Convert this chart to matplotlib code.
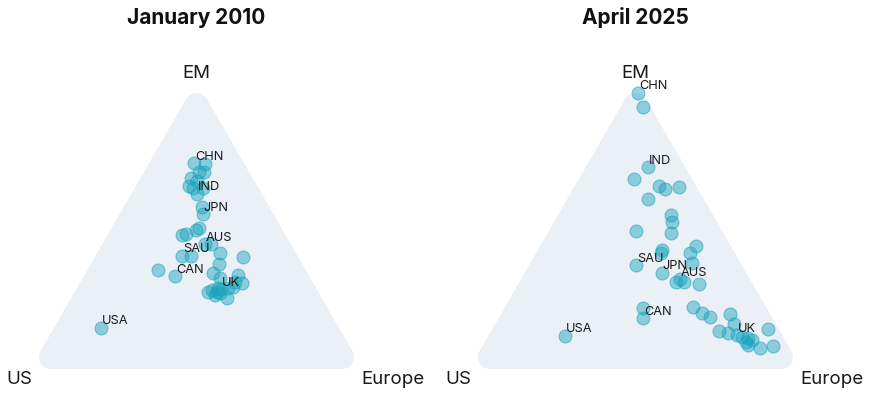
import numpy as np
import matplotlib
matplotlib.use("Agg")
import matplotlib.pyplot as plt
from matplotlib.patches import Polygon

plt.rcParams['font.family'] = ['Inter', 'DejaVu Sans']

# ---------------- data (shares in %) ----------------
titles = ["January 2010", "April 2025"]
corner_labels = ["US", "Europe", "EM"]

labels_2010 = ["USA", "CHN", "", "", "", "", "", "", "", "IND", "", "", "JPN", "", "", "", "",
               "AUS", "", "SAU", "", "", "", "", "", "CAN", "", "", "", "", "", "UK", "", "", "",
               "", "", "", "", "", ""]
us_2010 = [71.6, 15.0, 11.9, 13.5, 14.9, 18.6, 20.4, 17.3, 19.6, 19.4, 16.8, 20.3, 21.2, 25.9, 24.8,
           31.2, 29.7, 25.8, 24.0, 34.6, 32.1, 22.9, 16.4, 25.0, 44.5, 40.3, 28.2, 27.2, 21.1, 23.3,
           21.5, 28.7, 33.0, 31.7, 30.5, 29.8, 31.6, 28.7, 26.4, 24.7, 29.5]
eu_2010 = [14.0, 13.6, 17.0, 18.2, 16.6, 15.2, 15.9, 17.4, 17.7, 19.7, 20.5, 23.4, 25.0, 25.9, 26.3,
           22.4, 23.6, 30.9, 32.7, 26.1, 28.6, 36.9, 44.6, 38.5, 21.1, 27.4, 38.4, 41.3, 46.3, 46.4,
           48.7, 43.5, 40.2, 40.9, 42.7, 43.9, 42.7, 46.8, 45.6, 46.7, 42.4]
em_2010 = [14.4, 71.4, 71.1, 68.3, 68.5, 66.2, 63.7, 65.3, 62.7, 60.9, 62.7, 56.3, 53.8, 48.2, 48.9,
           46.4, 46.7, 43.3, 43.3, 39.3, 39.3, 40.2, 39.0, 36.5, 34.4, 32.3, 33.4, 31.5, 32.6, 30.3,
           29.8, 27.8, 26.8, 27.4, 26.8, 26.3, 25.7, 24.5, 28.0, 28.6, 28.1]

labels_2025 = ["CHN", "", "IND", "", "", "", "", "", "", "", "", "", "", "", "", "", "SAU", "JPN",
               "", "", "AUS", "", "", "", "CAN", "USA", "", "", "", "", "", "", "", "UK", "", "",
               "", "", "", "", "", ""]
us_2025 = [1.2, 2.2, 11.1, 17.5, 11.1, 9.9, 5.2, 16.7, 12.6, 13.6, 25.8, 15.9, 21.5, 22.3, 10.4,
           13.4, 31.8, 25.4, 14.6, 22.7, 21.1, 20.2, 16.1, 37.1, 38.9, 65.4, 21.8, 20.4, 18.5, 12.0,
           12.6, 18.2, 16.1, 13.6, 12.5, 10.8, 12.0, 11.9, 9.0, 3.2, 4.6, 10.1]
eu_2025 = [2.9, 6.9, 18.9, 16.6, 25.2, 27.6, 31.6, 24.4, 33.9, 35.4, 26.2, 37.0, 37.2, 37.5, 46.8,
           46.2, 32.1, 41.2, 48.5, 47.0, 47.8, 49.5, 54.5, 41.8, 43.5, 23.0, 56.6, 60.2, 63.3, 68.9,
           71.9, 68.5, 71.5, 74.6, 76.3, 78.6, 78.5, 79.8, 83.8, 83.0, 87.4, 79.9]
em_2025 = [95.9, 90.9, 70.0, 65.9, 63.7, 62.5, 63.2, 58.9, 53.5, 51.0, 48.0, 47.1, 41.3, 40.2, 42.8,
           40.4, 36.1, 33.4, 36.9, 30.3, 31.1, 30.3, 29.4, 21.1, 17.6, 11.6, 21.6, 19.4, 18.2, 19.1,
           15.5, 13.3, 12.4, 11.8, 11.2, 10.6, 9.5, 8.3, 7.2, 13.8, 8.0, 10.0]

panels = [
    (titles[0], labels_2010, us_2010, eu_2010, em_2010),
    (titles[1], labels_2025, us_2025, eu_2025, em_2025),
]

# ---------------- layout ----------------
W, H = 870, 394
S = 332.6              # triangle side in px
BASE_Y = 369.0         # triangle base y (px from top)
LEFT_X = [30.2, 469.2]  # left vertex x (px) per panel
RADIUS = 12.0          # corner radius px
SQ3 = np.sqrt(3) / 2

fig = plt.figure(figsize=(W / 100, H / 100), dpi=100)
fig.patch.set_facecolor("white")

pt_col = (0.09, 0.64, 0.74)
tri_col = "#ebeff6"
txt_col = "#1a1a1a"

for i, (title, labs, us, eu, em) in enumerate(panels):
    x0 = 0 if i == 0 else W / 2
    ax = fig.add_axes([x0 / W, 0, (W / 2) / W, 1])
    ax.set_xlim((x0 - LEFT_X[i]) / S, (x0 + W / 2 - LEFT_X[i]) / S)
    ax.set_ylim(-(H - BASE_Y) / S, BASE_Y / S)
    ax.axis("off")
    ax.patch.set_alpha(0)

    # rounded triangle: inset triangle stroked with round joins
    verts = np.array([[0, 0], [1, 0], [0.5, SQ3]])
    cen = np.array([0.5, SQ3 / 3])
    rho = 1 / (2 * np.sqrt(3))
    d = RADIUS / S
    inner = cen + (verts - cen) * (rho - d) / rho
    ax.add_patch(Polygon(inner, closed=True, facecolor=tri_col, edgecolor=tri_col,
                         linewidth=2 * RADIUS * 0.72, joinstyle="round", zorder=1))

    us_a, eu_a, em_a = np.array(us), np.array(eu), np.array(em)
    tot = us_a + eu_a + em_a
    fe, fm = eu_a / tot, em_a / tot
    xs = fe + 0.5 * fm
    ys = fm * SQ3
    ax.scatter(xs, ys, s=86, facecolor=(*pt_col, 0.45), edgecolor=(*pt_col, 0.55),
               linewidth=0.8, zorder=3)
    for lab, x, y in zip(labs, xs, ys):
        if lab:
            ax.annotate(lab, (x, y), xytext=(0.6, 4.6), textcoords="offset points",
                        ha="left", va="center", fontsize=9.2, color=txt_col, zorder=4)

    # corner labels
    ax.text(-11 / S, -10.5 / S, corner_labels[0], ha="center", va="center", fontsize=13.5, color=txt_col)
    ax.text(1 + 30 / S, -10.5 / S, corner_labels[1], ha="center", va="center", fontsize=13.5, color=txt_col)
    ax.text(0.5, SQ3 + 7.5 / S, corner_labels[2], ha="center", va="center", fontsize=13.5, color=txt_col)

    # title
    ax.text(0.5, (BASE_Y - 18) / S, title, ha="center", va="center", fontsize=15,
            fontweight="bold", color="#111111")

fig.savefig("out.png", dpi=100, facecolor="white")
